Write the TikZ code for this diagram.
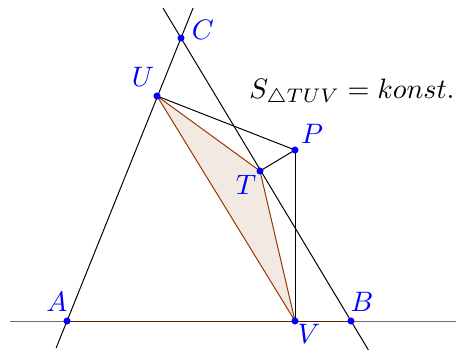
\documentclass[tikz,border=0pt]{standalone}
\usepackage{amsmath,amssymb}
\usetikzlibrary{calc}
\definecolor{ptblue}{RGB}{0,0,255}
\definecolor{trifill}{RGB}{243,233,227}
\definecolor{triedge}{RGB}{153,51,0}
\definecolor{baseln}{RGB}{110,110,110}

\begin{document}
\begin{tikzpicture}[x=0.025cm,y=-0.025cm,
    lbl/.style={text=ptblue,scale=2},
    ln/.style={line width=0.7pt}]
    \useasboundingbox (0,0) rectangle (456,350);
    % points
    \coordinate (A) at (67,321);
    \coordinate (B) at (351,321);
    \coordinate (C) at (181,38);
    \coordinate (U) at (157,96);
    \coordinate (P) at (295,150);
    \coordinate (T) at (260,171);
    \coordinate (V) at (295,321);
    % ends of the lines
    \coordinate (AC0) at ($(A)!-0.095!(C)$);
    \coordinate (AC1) at ($(A)!1.106!(C)$);
    \coordinate (BC0) at ($(B)!-0.102!(C)$);
    \coordinate (BC1) at ($(B)!1.106!(C)$);
    \coordinate (L) at (10,321);
    \coordinate (R) at (456,321);

    \filldraw[ln,fill=trifill,draw=triedge] (T)--(U)--(V)--cycle;
    \begin{scope}[ln]
    \draw[baseln] (L)--(R);
    \draw[triedge!60!black] (A)--(B);
    \draw (AC0)--(AC1);
    \draw (BC0)--(BC1);
    \draw (U)--(P);
    \draw (P)--(T);
    \draw (P)--(V);
    \end{scope}
    \foreach \p in {A,B,C,U,P,T,V}
      \fill[ptblue] (\p) circle (2.5pt);

    \node[lbl] (lA) at (57,302) {$A$};
    \node[lbl] (lB) at (362,302) {$B$};
    \node[lbl] (lC) at (203,30) {$C$};
    \node[lbl] (lU) at (143,77) {$U$};
    \node[lbl] (lP) at (312,134) {$P$};
    \node[lbl] (lT) at (246,185) {$T$};
    \node[lbl] (lV) at (309,334) {$V$};
    \node[scale=2] (form) at (352,93) {$S_{\triangle TUV}=konst.$};
\end{tikzpicture}
\end{document}
